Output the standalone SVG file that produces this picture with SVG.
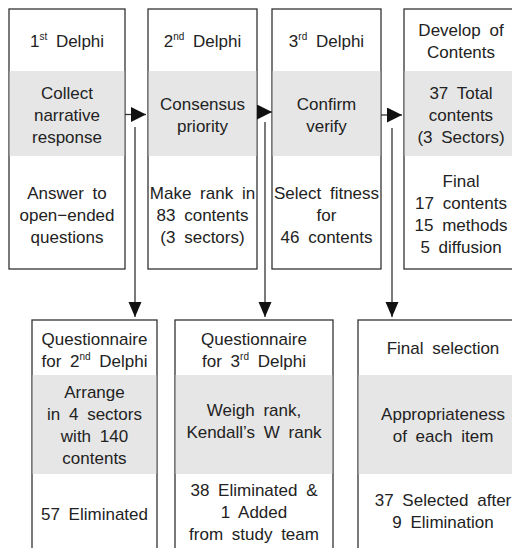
<svg xmlns="http://www.w3.org/2000/svg" width="512" height="548" viewBox="0 0 512 548">
<style>
.box{fill:#fff;stroke:#333;stroke-width:1.3}
.band{fill:#e6e6e6}
.t{font-family:"Liberation Sans",Arial,sans-serif;font-size:17px;fill:#222;text-anchor:middle;word-spacing:4px}
.sup{font-size:10px}
.conn{stroke:#333;stroke-width:1.3;fill:none}
</style>
<defs>
<marker id="ah" markerUnits="userSpaceOnUse" markerWidth="16" markerHeight="16" refX="15" refY="7.5" orient="auto"><path d="M0,0 L15,7.5 L0,15 z" fill="#111"/></marker>
<marker id="av" markerUnits="userSpaceOnUse" markerWidth="16" markerHeight="14" refX="15" refY="6.5" orient="auto"><path d="M0,0 L15,6.5 L0,13 z" fill="#111"/></marker>
</defs>
<rect width="512" height="548" fill="#fff"/>

<g id="d1">
<rect class="box" x="9" y="9" width="116" height="260"/>
<rect class="band" x="9.7" y="71" width="114.6" height="85"/>
<text class="t" x="67" y="47">1<tspan class="sup" dy="-7">st</tspan><tspan dy="7"> Delphi</tspan></text>
<text class="t" x="67" y="99">Collect</text>
<text class="t" x="67" y="121">narrative</text>
<text class="t" x="67" y="143">response</text>
<text class="t" x="67" y="199">Answer to</text>
<text class="t" x="67" y="221">open−ended</text>
<text class="t" x="67" y="243">questions</text>
</g>

<g id="d2">
<rect class="box" x="148" y="9" width="109" height="260"/>
<rect class="band" x="148.7" y="71" width="107.6" height="85"/>
<text class="t" x="202.5" y="47">2<tspan class="sup" dy="-7">nd</tspan><tspan dy="7"> Delphi</tspan></text>
<text class="t" x="202.5" y="110">Consensus</text>
<text class="t" x="202.5" y="132">priority</text>
<text class="t" x="202.5" y="199">Make rank in</text>
<text class="t" x="202.5" y="221">83 contents</text>
<text class="t" x="202.5" y="243">(3 sectors)</text>
</g>

<g id="d3">
<rect class="box" x="272" y="9" width="109" height="260"/>
<rect class="band" x="272.7" y="71" width="107.6" height="85"/>
<text class="t" x="326.5" y="47">3<tspan class="sup" dy="-7">rd</tspan><tspan dy="7"> Delphi</tspan></text>
<text class="t" x="326.5" y="110">Confirm</text>
<text class="t" x="326.5" y="132">verify</text>
<text class="t" x="326.5" y="199">Select fitness</text>
<text class="t" x="326.5" y="221">for</text>
<text class="t" x="326.5" y="243">46 contents</text>
</g>

<g id="dev">
<rect class="box" x="404" y="9" width="114" height="260"/>
<rect class="band" x="404.7" y="71" width="112.6" height="85"/>
<text class="t" x="461" y="36">Develop of</text>
<text class="t" x="461" y="58">Contents</text>
<text class="t" x="461" y="99">37 Total</text>
<text class="t" x="461" y="121">contents</text>
<text class="t" x="461" y="143">(3 Sectors)</text>
<text class="t" x="461" y="187">Final</text>
<text class="t" x="461" y="209">17 contents</text>
<text class="t" x="461" y="231">15 methods</text>
<text class="t" x="461" y="253">5 diffusion</text>
</g>

<g id="q2">
<rect class="box" x="32" y="320" width="125" height="240"/>
<rect class="band" x="32.7" y="375" width="123.6" height="99"/>
<text class="t" x="94.5" y="345">Questionnaire</text>
<text class="t" x="94.5" y="367">for 2<tspan class="sup" dy="-7">nd</tspan><tspan dy="7"> Delphi</tspan></text>
<text class="t" x="94.5" y="398">Arrange</text>
<text class="t" x="94.5" y="420">in 4 sectors</text>
<text class="t" x="94.5" y="442">with 140</text>
<text class="t" x="94.5" y="464">contents</text>
<text class="t" x="94.5" y="520">57 Eliminated</text>
</g>

<g id="q3">
<rect class="box" x="175" y="320" width="158" height="240"/>
<rect class="band" x="175.7" y="375" width="156.6" height="99"/>
<text class="t" x="254" y="345">Questionnaire</text>
<text class="t" x="254" y="367">for 3<tspan class="sup" dy="-7">rd</tspan><tspan dy="7"> Delphi</tspan></text>
<text class="t" x="254" y="416">Weigh rank,</text>
<text class="t" x="254" y="438">Kendall’s W rank</text>
<text class="t" x="254" y="496">38 Eliminated &amp;</text>
<text class="t" x="254" y="518">1 Added</text>
<text class="t" x="254" y="540">from study team</text>
</g>

<g id="fs">
<rect class="box" x="358" y="320" width="170" height="240"/>
<rect class="band" x="358.7" y="375" width="168.6" height="99"/>
<text class="t" x="443" y="354">Final selection</text>
<text class="t" x="443" y="420">Appropriateness</text>
<text class="t" x="443" y="442">of each item</text>
<text class="t" x="443" y="506">37 Selected after</text>
<text class="t" x="443" y="528">9 Elimination</text>
</g>

<g id="connectors">
<path class="conn" d="M125,114.5 H146" marker-end="url(#ah)"/>
<path class="conn" d="M257,112 H272" marker-end="url(#ah)"/>
<path class="conn" d="M381,115 H402" marker-end="url(#ah)"/>
<path class="conn" d="M135,127 V317" marker-end="url(#av)"/>
<path class="conn" d="M265,122 V317" marker-end="url(#av)"/>
<path class="conn" d="M392,128 V317" marker-end="url(#av)"/>
</g>
</svg>
